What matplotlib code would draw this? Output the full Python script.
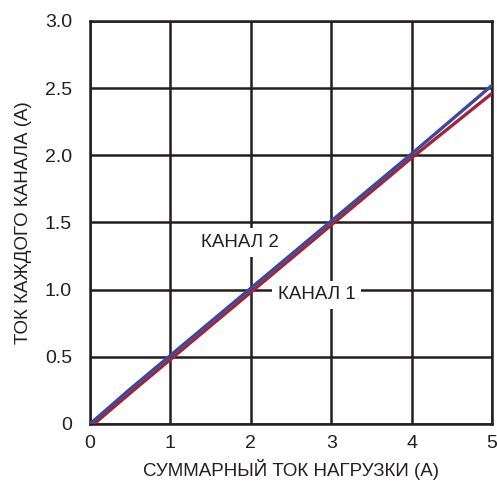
import matplotlib
matplotlib.use("Agg")
import matplotlib.pyplot as plt

# summary load current (A) vs per-channel current (A)
x_ch2 = [0.0, 0.5, 1.0, 2.0, 3.0, 4.0, 5.0]
y_ch2 = [0.0, 0.26, 0.51, 1.01, 1.51, 2.01, 2.52]
x_ch1 = [0.05, 0.5, 0.7, 1.0, 2.0, 3.0, 4.0, 5.0]
y_ch1 = [0.0, 0.23, 0.33, 0.48, 0.98, 1.48, 1.98, 2.46]

xticks = [0, 1, 2, 3, 4, 5]
yticks = [0, 0.5, 1.0, 1.5, 2.0, 2.5, 3.0]
ytick_labels = ["0", "0.5", "1.0", "1.5", "2.0", "2.5", "3.0"]

plt.rcParams['font.family'] = ['Liberation Sans Narrow', 'Liberation Sans', 'DejaVu Sans']

fig = plt.figure(figsize=(4.97, 4.84), dpi=100)
ax = fig.add_axes([0.181, 0.124, 0.809, 0.833])

ax.plot(x_ch1, y_ch1, color='#a3233a', lw=2.4, zorder=3)
ax.plot(x_ch2, y_ch2, color='#3a4a9a', lw=2.4, zorder=4)

ax.set_xlim(0, 5)
ax.set_ylim(0, 3)
ax.set_xticks(xticks)
ax.set_yticks(yticks)
ax.set_yticklabels(ytick_labels)
ax.tick_params(length=0, colors='#231f20', labelsize=14)
ax.tick_params(axis='x', pad=8)
ax.tick_params(axis='y', pad=13)
ax.grid(True, color='#231f20', lw=1.8)
for s in ax.spines.values():
    s.set_color('#231f20')
    s.set_linewidth(1.8)

ax.set_xlabel('СУММАРНЫЙ ТОК НАГРУЗКИ (А)', color='#231f20', fontsize=13.5, labelpad=5)
ax.set_ylabel('ТОК КАЖДОГО КАНАЛА (А)', color='#231f20', fontsize=13.5, labelpad=9)

box = dict(facecolor='white', edgecolor='none', pad=4)
ax.text(1.87, 1.35, 'КАНАЛ 2', ha='center', va='center', fontsize=13.5,
        color='#231f20', bbox=box, zorder=5)
ax.text(2.82, 0.96, 'КАНАЛ 1', ha='center', va='center', fontsize=13.5,
        color='#231f20', bbox=box, zorder=5)

fig.savefig('out.png', dpi=100)
